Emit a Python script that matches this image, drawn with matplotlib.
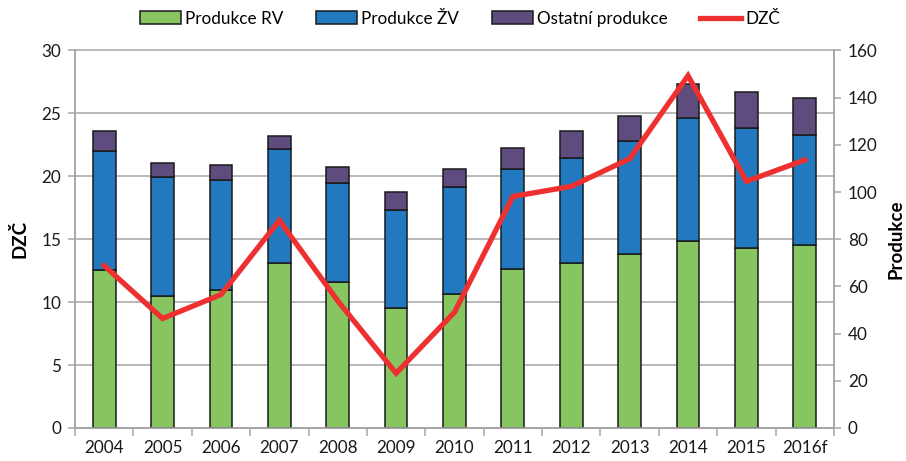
import matplotlib
matplotlib.use("Agg")
from matplotlib import pyplot as plt
from matplotlib import transforms
import numpy as np

years = ["2004", "2005", "2006", "2007", "2008", "2009", "2010", "2011", "2012", "2013", "2014", "2015", "2016f"]
produkce_rv = [67.0, 55.9, 58.5, 70.1, 61.7, 50.7, 56.7, 67.5, 70.1, 73.7, 79.1, 76.4, 77.6]
produkce_zv = [50.4, 50.6, 46.6, 48.0, 42.0, 41.7, 45.4, 42.1, 44.2, 48.1, 52.3, 50.6, 46.7]
ostatni = [8.5, 5.7, 6.5, 5.7, 6.8, 7.8, 7.8, 9.2, 11.7, 10.4, 14.4, 15.4, 15.6]
dzc = [12.9, 8.7, 10.6, 16.5, 10.1, 4.35, 9.2, 18.4, 19.2, 21.4, 28.0, 19.6, 21.3]

plt.rcParams['font.family'] = ['Lato', 'DejaVu Sans']

fig = plt.figure(figsize=(9.06, 4.61), dpi=100)
fig.subplots_adjust(left=0.0828, right=0.9205, top=0.8905, bottom=0.0716)
ax = fig.add_subplot(111)
ax2 = ax.twinx()

x = np.arange(len(years))
w = 0.39
c_green = "#86C55F"
c_blue = "#2279BF"
c_purple = "#5E4C7F"
grey = "#A6A6A6"

rv = np.array(produkce_rv)
zv = np.array(produkce_zv)
ot = np.array(ostatni)
b1 = ax.bar(x, rv, w, color=c_green, edgecolor="#1a1a1a", linewidth=1.1, zorder=3, label="Produkce RV")
b2 = ax.bar(x, zv, w, bottom=rv, color=c_blue, edgecolor="#1a1a1a", linewidth=1.1, zorder=3, label="Produkce ŽV")
b3 = ax.bar(x, ot, w, bottom=rv + zv, color=c_purple, edgecolor="#1a1a1a", linewidth=1.1, zorder=3, label="Ostatní produkce")
l1, = ax2.plot(x, dzc, color="#EE3030", linewidth=3.8, solid_joinstyle="miter", label="DZČ")

ax.set_xlim(-0.5, len(years) - 0.5)
ax.set_ylim(0, 160)
ax2.set_ylim(0, 30)
ax.set_yticks(np.arange(0, 161, 20))
ax2.set_yticks(np.arange(0, 31, 5))

# bars on the right axis, line on the left axis
ax.yaxis.tick_right()
ax.yaxis.set_label_position("right")
ax2.yaxis.tick_left()
ax2.yaxis.set_label_position("left")

# gridlines follow the left (DZČ) scale, drawn behind the bars
tr = transforms.blended_transform_factory(ax.transAxes, ax2.transData)
for t in ax2.get_yticks():
    ax.plot([0, 1], [t, t], transform=tr, color=grey, linewidth=1.1, zorder=1, clip_on=False)

ax.set_xticks(x)
ax.set_xticklabels(years)
ax.set_xticks(np.arange(-0.5, len(years), 1), minor=True)
ax.tick_params(axis="x", which="major", length=0, pad=9, labelsize=12.3, colors="#1a1a1a")
ax.tick_params(axis="x", which="minor", length=6, width=1.1, color=grey, direction="out")
ax.tick_params(axis="y", length=5, width=1.1, color=grey, direction="out", labelsize=12.3, labelcolor="#1a1a1a", pad=5)
ax2.tick_params(axis="y", length=5, width=1.1, color=grey, direction="out", labelsize=12.3, labelcolor="#1a1a1a", pad=5)

for a in (ax, ax2):
    a.spines["top"].set_visible(False)
    for s in ("left", "right", "bottom"):
        a.spines[s].set_color(grey)
        a.spines[s].set_linewidth(1.1)

ax.set_ylabel("Produkce", fontsize=13.5, fontweight="bold", labelpad=7)
ax2.set_ylabel("DZČ", fontsize=13.5, fontweight="bold", labelpad=9)

fig.legend(handles=[b1, b2, b3, l1], loc="upper center", bbox_to_anchor=(0.508, 1.01), ncol=4,
           frameon=False, fontsize=12.3, handlelength=2.4, handleheight=0.8, handletextpad=0.25, columnspacing=1.9)

fig.savefig("out.png", dpi=100)
